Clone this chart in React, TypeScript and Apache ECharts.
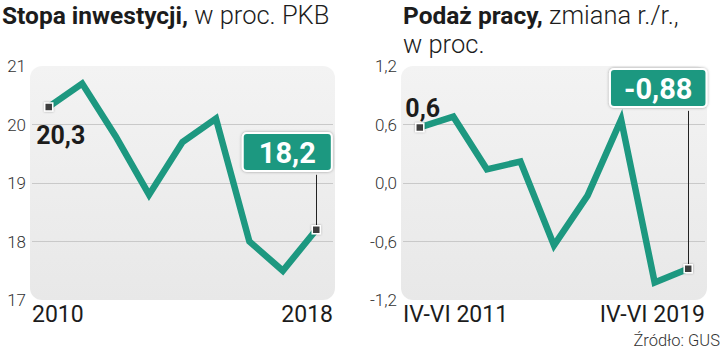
import React, { useEffect, useRef } from "react";
import * as echarts from "echarts";

// ---- data ----
const years = ["2010", "2011", "2012", "2013", "2014", "2015", "2016", "2017", "2018"];
const investmentRate = [20.3, 20.7, 19.8, 18.8, 19.7, 20.1, 18.0, 17.5, 18.2];
const quarters = [
  "IV-VI 2011", "IV-VI 2012", "IV-VI 2013", "IV-VI 2014", "IV-VI 2015",
  "IV-VI 2016", "IV-VI 2017", "IV-VI 2018", "IV-VI 2019",
];
const laborSupply = [0.57, 0.68, 0.14, 0.22, -0.64, -0.13, 0.65, -1.02, -0.88];
const leftAxis = { min: 17, max: 21, interval: 1 };
const rightAxis = { min: -1.2, max: 1.2, interval: 0.6 };
const leftFirstLabel = "20,3";
const leftLastLabel = "18,2";
const rightFirstLabel = "0,6";
const rightLastLabel = "-0,88";
const leftTitleBold = "Stopa inwestycji,";
const leftTitleLight = " w proc. PKB";
const rightTitleBold = "Podaż pracy,";
const rightTitleLight1 = " zmiana r./r.,";
const rightTitleLight2 = "w proc.";
const sourceText = "Źródło: GUS";

const TEAL = "#1d9880";
const FONT = "Roboto, 'Noto Sans', sans-serif";
const TXT = "#1c1c1c";

const fmtComma = (v: number) => (Math.abs(v) < 1e-9 ? "0,0" : v.toFixed(1).replace(".", ","));

function buildSeriesData(values: number[], firstLabel: any, lastLabel: any) {
  const n = values.length;
  return values.map((v, i) => {
    const item: any = { value: v };
    if (i === 0) item.label = firstLabel;
    if (i === n - 1) item.label = lastLabel;
    return item;
  });
}

const boxLabel = (text: string, distance: number, offsetX: number, padX: number) => ({
  show: true,
  position: "top",
  distance,
  offset: [offsetX, 0],
  formatter: text,
  color: "#fff",
  fontFamily: FONT,
  fontWeight: "bold",
  fontSize: 29,
  lineHeight: 32,
  backgroundColor: TEAL,
  borderColor: "#fff",
  borderWidth: 2,
  borderRadius: 3,
  padding: [3, padX, 1, padX],
  shadowColor: "rgba(0,0,0,0.35)",
  shadowBlur: 3,
});

const plainLabel = (text: string, position: string, distance: number, offsetX: number) => ({
  show: true,
  position,
  distance,
  offset: [offsetX, 0],
  formatter: text,
  color: TXT,
  fontFamily: FONT,
  fontWeight: "bold",
  fontSize: 25,
});

export default function App() {
  const ref = useRef<HTMLDivElement>(null);

  useEffect(() => {
    if (!ref.current) return;
    const chart = echarts.init(ref.current, undefined, { renderer: "svg" });
    const bgGrad = () =>
      new echarts.graphic.LinearGradient(0, 0, 0, 1, [
        { offset: 0, color: "#f3f3f3" },
        { offset: 1, color: "#e8e8e8" },
      ]);

    const yAxisCommon = (range: any, fmt: (v: number) => string) => ({
      type: "value",
      min: range.min,
      max: range.max,
      interval: range.interval,
      axisLine: { show: false },
      axisTick: { show: false },
      axisLabel: {
        color: "#333",
        fontFamily: FONT,
        fontWeight: 300,
        fontSize: 17,
        margin: 6,
        formatter: fmt,
      },
      splitLine: { show: true, showMinLine: false, showMaxLine: false, lineStyle: { color: "#c9c9c9", width: 1 } },
    });

    const xMain = (cats: string[], gridIndex: number) => ({
      type: "category",
      gridIndex,
      data: cats,
      boundaryGap: true,
      axisLine: { show: false },
      axisTick: { show: false },
      axisLabel: { show: false },
      splitLine: { show: false },
    });

    const xEnds = (cats: string[], gridIndex: number) => ({
      type: "category",
      gridIndex,
      position: "bottom",
      data: [cats[0], cats[cats.length - 1]],
      boundaryGap: false,
      axisLine: { show: false },
      axisTick: { show: false },
      splitLine: { show: false },
      axisLabel: {
        show: true,
        interval: 0,
        color: TXT,
        fontFamily: FONT,
        fontSize: 23,
        margin: 3,
        alignMinLabel: "left",
        alignMaxLabel: "right",
      },
    });

    const lineSeries = (values: number[], xIdx: number, yIdx: number, firstLabel: any, lastLabel: any, cats: string[], leaderLen: number) => ({
      type: "line",
      xAxisIndex: xIdx,
      yAxisIndex: yIdx,
      data: buildSeriesData(values, firstLabel, lastLabel),
      showSymbol: true,
      symbol: "rect",
      symbolSize: (_v: any, p: any) => (p.dataIndex === 0 || p.dataIndex === values.length - 1 ? 8 : 0),
      itemStyle: { color: "#3d3d3d", borderColor: "#fff", borderWidth: 1.5, shadowColor: "rgba(0,0,0,0.35)", shadowBlur: 2 },
      lineStyle: { color: TEAL, width: 6.5, cap: "butt", join: "miter" },
      label: { show: false },
      z: 3,
      markLine: {
        silent: true,
        symbol: "none",
        label: { show: false },
        lineStyle: { color: "#222", width: 1, type: "solid" },
        z: 2,
        data: [
          [
            { coord: [cats[cats.length - 1], values[values.length - 1]] },
            { coord: [cats[cats.length - 1], values[values.length - 1] + leaderLen] },
          ],
        ],
      },
    });

    const option: any = {
      animation: false,
      backgroundColor: "#fff",
      grid: [
        { left: 32, top: 66, width: 301, height: 234, containLabel: false },
        { left: 403, top: 66, width: 302, height: 234, containLabel: false },
      ],
      xAxis: [xMain(years, 0), xEnds(years, 0), xMain(quarters, 1), xEnds(quarters, 1)],
      yAxis: [
        { ...yAxisCommon(leftAxis, (v: number) => String(Math.round(v))), gridIndex: 0 },
        { ...yAxisCommon(rightAxis, fmtComma), gridIndex: 1 },
      ],
      series: [
        lineSeries(
          investmentRate, 0, 0,
          plainLabel(leftFirstLabel, "bottom", 11, 12),
          boxLabel(leftLastLabel, 55, -29, 15),
          years, 0.94
        ),
        lineSeries(
          laborSupply, 2, 1,
          plainLabel(rightFirstLabel, "top", 2, 3),
          boxLabel(rightLastLabel, 158, -30, 13),
          quarters, 1.62
        ),
      ],
      graphic: [
        {
          type: "rect",
          z: -10,
          silent: true,
          shape: { x: 30, y: 66, width: 305, height: 234, r: 12 },
          style: { fill: bgGrad() },
        },
        {
          type: "rect",
          z: -10,
          silent: true,
          shape: { x: 401, y: 66, width: 306, height: 234, r: 12 },
          style: { fill: bgGrad() },
        },
        {
          type: "text",
          left: 2,
          top: 2,
          style: {
            text: `{b|${leftTitleBold}}{l|${leftTitleLight}}`,
            rich: {
              b: { fontFamily: FONT, fontWeight: "bold", fontSize: 24.5, lineHeight: 26, fill: TXT },
              l: { fontFamily: FONT, fontWeight: 300, fontSize: 25.5, lineHeight: 26, fill: TXT },
            },
          },
        },
        {
          type: "text",
          left: 403,
          top: 2,
          style: {
            text: `{b|${rightTitleBold}}{l|${rightTitleLight1}}\n{l|${rightTitleLight2}}`,
            rich: {
              b: { fontFamily: FONT, fontWeight: "bold", fontSize: 24.5, lineHeight: 29, fill: TXT },
              l: { fontFamily: FONT, fontWeight: 300, fontSize: 25.5, lineHeight: 29, fill: TXT },
            },
          },
        },
        {
          type: "text",
          right: 1,
          top: 332,
          style: {
            text: sourceText,
            fontFamily: FONT,
            fontWeight: 300,
            fontSize: 16.5,
            fill: "#333",
          },
        },
      ],
    };

    chart.setOption(option);
    return () => chart.dispose();
  }, []);

  return (
    <div
      ref={ref}
      style={{ position: "fixed", left: 0, top: 0, width: 721, height: 352 }}
    />
  );
}
